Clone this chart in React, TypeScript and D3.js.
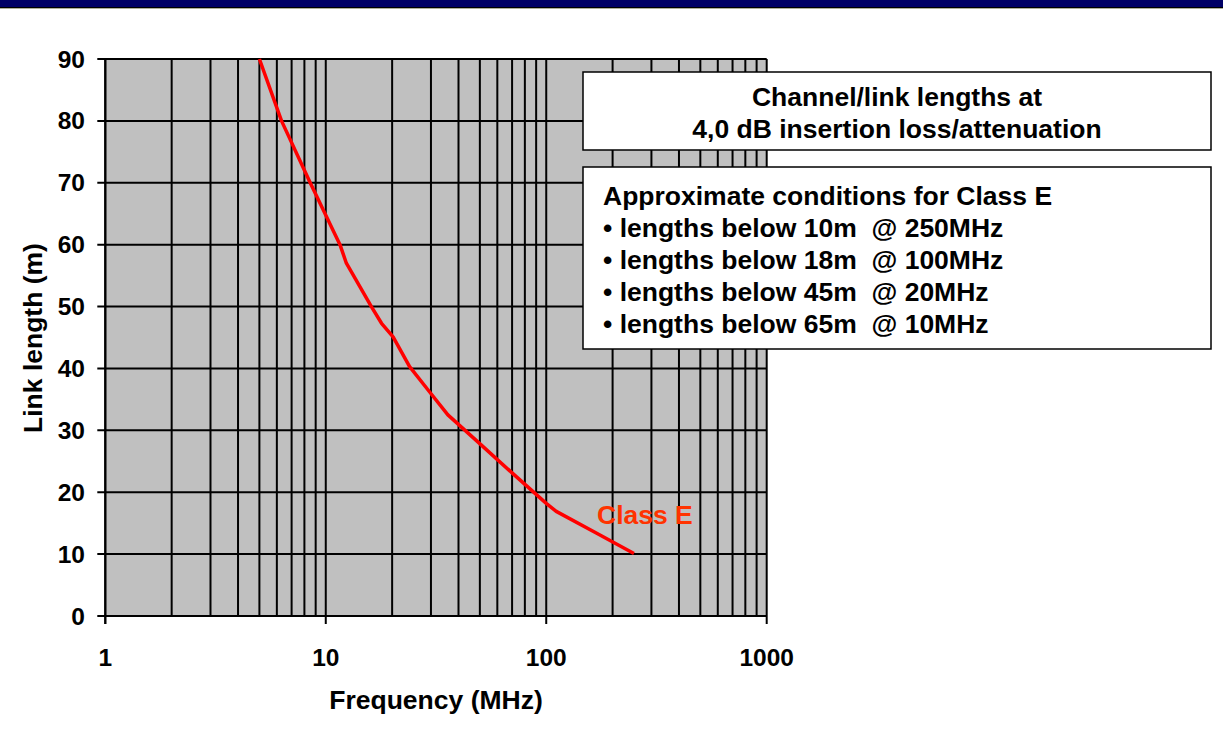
import React from "react";
import * as d3 from "d3";

const frequencyMHz = [5, 6.3, 8.5, 11.6, 12.4, 16.1, 17.9, 20.2, 24, 29.6, 35.8, 49.8, 70.6, 100, 111, 168.6, 250];
const linkLengthM = [90, 80, 70, 60, 57, 50, 47.3, 45.1, 40.3, 36.2, 32.5, 27.9, 23, 18.2, 16.9, 13.4, 10.1];
const yTicks = [0, 10, 20, 30, 40, 50, 60, 70, 80, 90];
const xDecades = [1, 10, 100, 1000];
const titleLines = ["Channel/link lengths at", "4,0 dB insertion loss/attenuation"];
const conditionLines = [
  "Approximate conditions for Class E",
  "\u2022 lengths below 10m  @ 250MHz",
  "\u2022 lengths below 18m  @ 100MHz",
  "\u2022 lengths below 45m  @ 20MHz",
  "\u2022 lengths below 65m  @ 10MHz",
];
const seriesName = "Class E";

const W = 1223, H = 752;
const left = 105.3, right = 766.7, top = 59, bottom = 616;
const FONT = "Arial, 'Liberation Sans', Helvetica, sans-serif";

export default function App() {
  const x = d3.scaleLog().domain([1, 1000]).range([left, right]);
  const y = d3.scaleLinear().domain([0, 90]).range([bottom, top]);
  const xGrid = x.ticks();
  const pts = frequencyMHz.map((f, i) => [f, linkLengthM[i]] as [number, number]);
  const line = d3.line<[number, number]>().x(d => x(d[0])).y(d => y(d[1])).curve(d3.curveLinear);

  return (
    <svg width={W} height={H} style={{ position: "absolute", left: 0, top: 0, background: "#fff" }} fontFamily={FONT}>
      <rect x={0} y={0} width={W} height={7} fill="#000066" />
      <rect x={0} y={7} width={W} height={1.2} fill="#000000" />
      <rect x={0} y={8.2} width={W} height={0.8} fill="#a8a890" />

      <rect x={left} y={top} width={right - left} height={bottom - top} fill="#C0C0C0" />
      {xGrid.map((t, i) => (
        <line key={"vx" + i} x1={x(t)} x2={x(t)} y1={top} y2={bottom} stroke="#000" strokeWidth={2} />
      ))}
      {yTicks.map((t, i) => (
        <line key={"hy" + i} x1={left - 8} x2={right} y1={y(t)} y2={y(t)} stroke="#000" strokeWidth={2} />
      ))}
      <line x1={left} x2={left} y1={top} y2={bottom + 8} stroke="#000" strokeWidth={2} />
      {xDecades.map((t, i) => (
        <line key={"xt" + i} x1={x(t)} x2={x(t)} y1={bottom} y2={bottom + 8} stroke="#000" strokeWidth={2} />
      ))}

      {yTicks.map((t, i) => (
        <text key={"yl" + i} x={85} y={y(t)} dy="0.35em" textAnchor="end" fontSize={24.5} fontWeight="bold">{t}</text>
      ))}
      {xDecades.map((t, i) => (
        <text key={"xl" + i} x={x(t)} y={657} dy="0.35em" textAnchor="middle" fontSize={24.5} fontWeight="bold">{t}</text>
      ))}
      <text x={436} y={700} dy="0.35em" textAnchor="middle" fontSize={26.5} fontWeight="bold">Frequency (MHz)</text>
      <text transform="translate(33,338) rotate(-90)" dy="0.35em" textAnchor="middle" fontSize={26.5} fontWeight="bold">Link length (m)</text>

      <path d={line(pts) || ""} fill="none" stroke="#FF0000" strokeWidth={3.5} strokeLinejoin="round" />
      <text x={597} y={515} dy="0.35em" fontSize={26.5} fontWeight="bold" fill="#FF3300">{seriesName}</text>

      <rect x={583} y={72} width={628} height={78} fill="#fff" stroke="#000" strokeWidth={1.5} />
      {titleLines.map((s, i) => (
        <text key={"tl" + i} x={897} y={97 + i * 32} dy="0.35em" textAnchor="middle" fontSize={26.5} fontWeight="bold">{s}</text>
      ))}
      <rect x={583} y={167} width={628} height={182} fill="#fff" stroke="#000" strokeWidth={1.5} />
      {conditionLines.map((s, i) => (
        <text key={"cl" + i} x={603} y={196 + i * 32} dy="0.35em" fontSize={26.5} fontWeight="bold" style={{ whiteSpace: "pre" }}>{s}</text>
      ))}
    </svg>
  );
}
